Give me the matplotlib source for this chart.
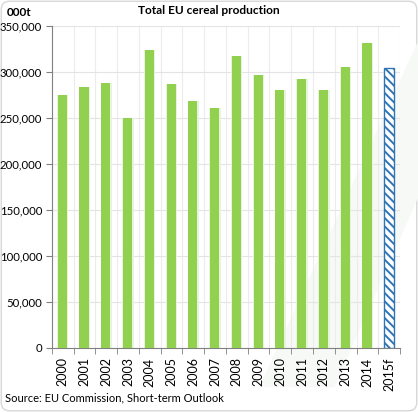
import matplotlib
matplotlib.use("Agg")
import matplotlib.pyplot as plt
from matplotlib.patches import Polygon, FancyBboxPatch
from matplotlib.ticker import FuncFormatter, MultipleLocator
import numpy as np

years = ["2000", "2001", "2002", "2003", "2004", "2005", "2006", "2007",
         "2008", "2009", "2010", "2011", "2012", "2013", "2014", "2015f"]
production = [275000, 283000, 287500, 249500, 323000, 286000, 267500, 260000,
              316500, 296000, 279500, 291500, 280500, 305500, 330500, 304000]
forecast = [False] * 15 + [True]

plt.rcParams['font.family'] = ['Lato', 'DejaVu Sans']
plt.rcParams['hatch.color'] = '#2e9fd8'
plt.rcParams['hatch.linewidth'] = 1.4

fig = plt.figure(figsize=(4.18, 4.12), dpi=100)
# background frame
fig.patches.append(FancyBboxPatch((0.003, 0.003), 0.994, 0.994, boxstyle="round,pad=0,rounding_size=0.02",
                                  transform=fig.transFigure, fc='white', ec='#d8d8d8', lw=1.0, zorder=-10))
# faint watermark stripe
fig.patches.append(Polygon([(0.62, 0.06), (0.80, 0.06), (1.0, 0.52), (1.0, 0.90)], closed=True,
                           transform=fig.transFigure, fc='#f6f9f6', ec='none', zorder=-5))

ax = fig.add_axes([0.124, 0.156, 0.833, 0.782])
ax.patch.set_alpha(0)
x = np.arange(len(years))
for xi, v, f in zip(x, production, forecast):
    if f:
        ax.bar(xi, v, width=0.45, facecolor='white', edgecolor='#2f75b5', hatch='\\\\\\\\', linewidth=1.0, zorder=3)
    else:
        ax.bar(xi, v, width=0.52, color='#e8f3dc', zorder=2)
        ax.bar(xi - 0.02, v, width=0.42, color='#92d050', zorder=3)

ax.set_xlim(-0.5, len(years) - 0.5)
ax.set_ylim(0, 350000)
ax.yaxis.set_major_locator(MultipleLocator(50000))
ax.yaxis.set_major_formatter(FuncFormatter(lambda v, p: f"{int(v):,}"))
ax.set_xticks(x)
ax.set_xticklabels(years, rotation=90, fontsize=9)
ax.set_xticks(np.arange(-0.5, len(years)), minor=True)
ax.tick_params(axis='x', which='major', length=0, pad=7)
ax.tick_params(axis='x', which='minor', length=4, color='#808080')
ax.tick_params(axis='y', length=4, color='#808080', labelsize=8.2, pad=3)
ax.grid(axis='y', color='#e4e4e4', lw=0.8, zorder=0)
ax.grid(axis='x', which='minor', color='#ececec', lw=0.8, zorder=0)
for s in ['top', 'right']:
    ax.spines[s].set_visible(False)
for s in ['left', 'bottom']:
    ax.spines[s].set_color('#808080')

fig.text(0.5, 0.975, "Total EU cereal production", ha='center', va='center', fontsize=8.6, fontweight='bold')
fig.text(0.015, 0.970, "000t", ha='left', va='center', fontsize=8.5, fontweight='bold')
fig.text(0.012, 0.034, "Source: EU Commission, Short-term Outlook", ha='left', va='center', fontsize=8.0)

fig.savefig("out.png", dpi=100)
